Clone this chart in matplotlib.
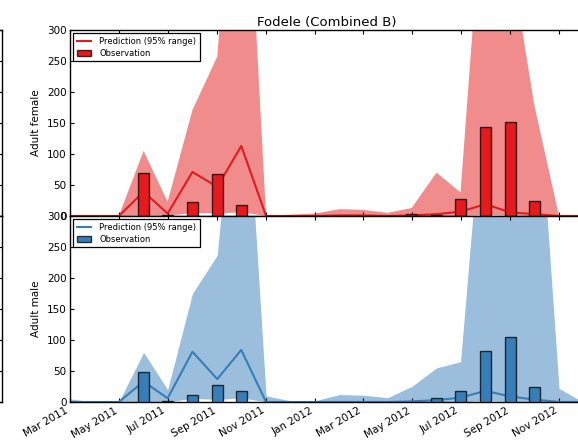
import datetime as dt
import numpy as np
import matplotlib
matplotlib.use("Agg")
import matplotlib.pyplot as plt
import matplotlib.dates as mdates
from matplotlib.lines import Line2D
from matplotlib.patches import Patch

# Monthly time axis (first of each month), Mar 2011 - Dec 2012
months = [dt.date(2011 + (m - 1) // 12, (m - 1) % 12 + 1, 1) for m in range(3, 3 + 22)]

# Adult female: predicted median and 95% range, observed counts
female_median = [0, 0, 0, 39, 4, 71, 47, 113, 0, 0, 0, 1, 1, 0, 1, 3, 7, 19, 6, 3, 0, 0]
female_lower = [0, 0, 0, 1, 0, 5, 4, 6, 0, 0, 0, 0, 0, 0, 0, 0, 0, 2, 1, 0, 0, 0]
female_upper = [0, 0, 0, 105, 23, 171, 257, 750, 0, 2, 4, 11, 10, 5, 13, 70, 38, 580, 420, 180, 0, 0]
female_obs = [np.nan, np.nan, np.nan, 70, 1, 22, 67, 17, np.nan, np.nan, np.nan, np.nan,
              np.nan, np.nan, 4, 2, 27, 144, 151, 25, np.nan, np.nan]

# Adult male: predicted median and 95% range, observed counts
male_median = [0, 0, 0, 33, 6, 81, 37, 84, 0, 0, 0, 0, 0, 0, 1, 3, 7, 18, 9, 4, 0, 0]
male_lower = [0, 0, 0, 1, 0, 6, 4, 7, 0, 0, 0, 0, 0, 0, 0, 0, 0, 2, 1, 0, 0, 0]
male_upper = [5, 0, 0, 80, 20, 175, 237, 650, 10, 2, 2, 12, 11, 7, 25, 55, 65, 540, 500, 600, 22, 0]
male_obs = [np.nan, np.nan, np.nan, 48, 1, 11, 27, 17, np.nan, np.nan, np.nan, np.nan,
            np.nan, np.nan, np.nan, 6, 18, 83, 105, 25, np.nan, np.nan]

title = "Fodele (Combined B)"
y_ticks = [0, 50, 100, 150, 200, 250, 300]

RED = "#E41A1C"
BLUE = "#377EB8"
EDGE = (0, 0, 0, 0.75)

W, H = 578, 443
fig = plt.figure(figsize=(W / 100, H / 100), dpi=100)

left = 70 / W
right = 583 / W
top_a = 1 - 30 / H
mid = 1 - 216 / H
bot = 1 - 402 / H

ax_f = fig.add_axes([left, mid, right - left, top_a - mid])
ax_m = fig.add_axes([left, bot, right - left, mid - bot], sharex=ax_f)

# Neighbouring panel column, only its right edge falls inside the figure
nb_right = 2 / W
for b, t in [(mid, top_a), (bot, mid)]:
    nb = fig.add_axes([-0.5, b, 0.5 + nb_right, t - b])
    nb.set_ylim(0, 300)
    nb.set_yticks(y_ticks)
    nb.set_xticks([])
    nb.tick_params(axis="y", direction="in", right=True, left=False,
                   labelleft=False, length=3, width=0.8)
    for s in nb.spines.values():
        s.set_linewidth(1.0)

x = mdates.date2num(months)
bar_w = 14

def panel(ax, median, lower, upper, obs, color, ylabel):
    ax.fill_between(x, lower, upper, color=color, alpha=0.5, linewidth=0, zorder=1)
    ax.plot(x, median, color=color, lw=1.5, zorder=2)
    ax.bar(x, obs, width=bar_w, color=color, edgecolor=EDGE, linewidth=1.0,
           align="center", zorder=3)
    ax.set_ylim(0, 300)
    ax.set_yticks(y_ticks)
    ax.set_ylabel(ylabel, fontsize=7.5, labelpad=4)
    ax.tick_params(direction="in", top=True, right=True, length=3, width=0.8,
                   labelsize=7.5, pad=2.5)
    for s in ax.spines.values():
        s.set_linewidth(1.0)
    handles = [Line2D([], [], color=color, lw=1.5),
               Patch(facecolor=color, edgecolor=EDGE, linewidth=1.0)]
    leg = ax.legend(handles, ["Prediction (95% range)", "Observation"], loc="upper left",
                    fontsize=6, fancybox=False, framealpha=1, edgecolor="black",
                    borderaxespad=0.4, handlelength=1.7, handletextpad=1.0,
                    labelspacing=0.35, borderpad=0.4)
    leg.get_frame().set_linewidth(0.9)

panel(ax_f, female_median, female_lower, female_upper, female_obs, RED, "Adult female")
panel(ax_m, male_median, male_lower, male_upper, male_obs, BLUE, "Adult male")

ax_f.set_xlim(mdates.date2num(dt.date(2011, 3, 1)), mdates.date2num(dt.date(2012, 12, 1)))
ax_f.xaxis.set_major_locator(mdates.MonthLocator(bymonth=[1, 3, 5, 7, 9, 11]))
ax_f.xaxis.set_major_formatter(mdates.DateFormatter("%b %Y"))
plt.setp(ax_f.get_xticklabels(), visible=False)
for lab in ax_m.get_xticklabels():
    lab.set_rotation(30)
    lab.set_ha("right")

ax_f.set_title(title, fontsize=9.5, pad=3)

fig.savefig("out.png", dpi=100)
